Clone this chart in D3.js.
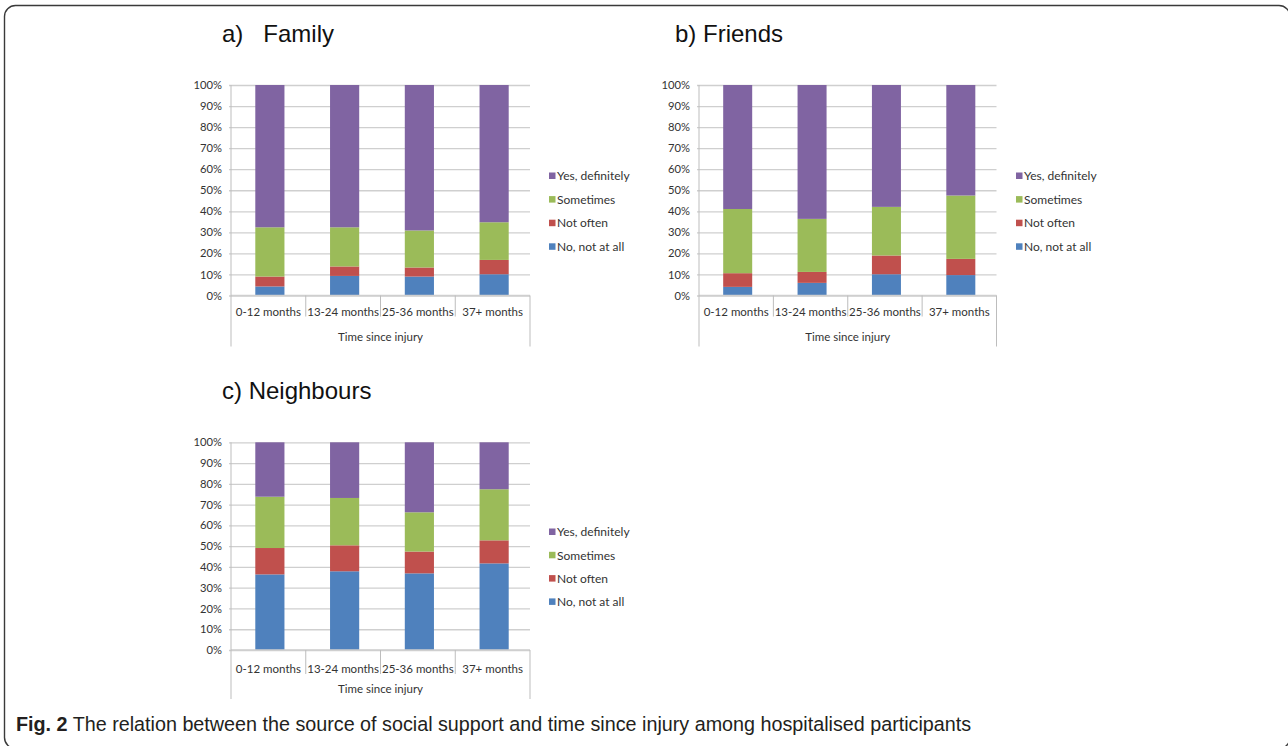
<!DOCTYPE html>
<html>
<head>
<meta charset="utf-8">
<script src="https://cdn.jsdelivr.net/npm/d3@7"></script>
<style>
  html, body { margin: 0; padding: 0; background: #fff; }
  svg { display: block; }
</style>
</head>
<body>
<svg id="fig" width="1288" height="746"></svg>
<script>
// Time since injury categories, shared by all three panels
const categories = ["0-12 months", "13-24 months", "25-36 months", "37+ months"];
// Response options, bottom of the stack first
const responses = ["No, not at all", "Not often", "Sometimes", "Yes, definitely"];
const responseColors = ["#4F81BD", "#C0504D", "#9BBB59", "#8064A2"];
const yTicks = [0, 10, 20, 30, 40, 50, 60, 70, 80, 90, 100];

// a) Family — percentage of each response per category
const familyNo        = [4.3, 9.3, 9.0, 10.1];
const familyNotOften  = [4.7, 4.5, 4.3, 6.8];
const familySometimes = [23.4, 18.6, 17.6, 17.9];
const familyYes       = [67.6, 67.6, 69.1, 65.2];

// b) Friends
const friendsNo        = [4.1, 6.0, 10.1, 9.7];
const friendsNotOften  = [6.5, 5.2, 8.9, 7.7];
const friendsSometimes = [30.5, 25.2, 23.1, 30.1];
const friendsYes       = [58.9, 63.6, 57.9, 52.5];

// c) Neighbours
const neighboursNo        = [36.4, 37.9, 36.9, 41.7];
const neighboursNotOften  = [12.7, 12.5, 10.5, 11.1];
const neighboursSometimes = [24.7, 22.8, 18.9, 24.6];
const neighboursYes       = [26.2, 26.8, 33.7, 22.6];

const axisTitle = "Time since injury";
const captionBold = "Fig. 2";
const captionText = " The relation between the source of social support and time since injury among hospitalised participants";

const panels = [
  { title: "a)   Family", series: [familyNo, familyNotOften, familySometimes, familyYes],
    x0: 231, x1: 530, yTop: 85, yBase: 295.5, divDrop: 21, outerDrop: 51,
    titleX: 222, titleY: 41.5, legendX: 549, legendY: 176, legendStep: 23.6 },
  { title: "b) Friends", series: [friendsNo, friendsNotOften, friendsSometimes, friendsYes],
    x0: 699, x1: 996.5, yTop: 85, yBase: 295.5, divDrop: 21, outerDrop: 51,
    titleX: 675, titleY: 41.5, legendX: 1016, legendY: 176, legendStep: 23.6 },
  { title: "c) Neighbours", series: [neighboursNo, neighboursNotOften, neighboursSometimes, neighboursYes],
    x0: 231, x1: 530, yTop: 442.3, yBase: 650, divDrop: 24, outerDrop: 49,
    titleX: 222, titleY: 398.5, legendX: 549, legendY: 532, legendStep: 23.3 }
];

const svg = d3.select("#fig");
const labelFont = "Lato, 'Open Sans', sans-serif";
const gridColor = "#cfcfcf";
const axisColor = "#bdbdbd";

// Rounded frame around the whole figure (right and bottom edges run past the canvas)
svg.append("rect")
  .attr("x", 4.5).attr("y", 5.5)
  .attr("width", 1285.5).attr("height", 743)
  .attr("rx", 11).attr("ry", 11)
  .attr("fill", "none").attr("stroke", "#3a3a3a").attr("stroke-width", 1.4);

panels.forEach(p => {
  const g = svg.append("g");

  const x = d3.scaleBand().domain(categories).range([p.x0, p.x1])
    .paddingInner(0.61).paddingOuter(0.305);
  const xCell = d3.scaleBand().domain(categories).range([p.x0, p.x1]).padding(0);
  const y = d3.scaleLinear().domain([0, 100]).range([p.yBase, p.yTop]);

  // Panel title
  g.append("text")
    .attr("x", p.titleX).attr("y", p.titleY)
    .attr("font-family", "'Liberation Sans', Arial, sans-serif")
    .attr("font-size", 24).attr("fill", "#111")
    .style("white-space", "pre")
    .text(p.title);

  // Horizontal gridlines with percent labels
  const yAxis = d3.axisLeft(y).tickValues(yTicks).tickFormat(d => d + "%")
    .tickSize(-(p.x1 - p.x0) - 2).tickPadding(8);
  const ya = g.append("g").attr("transform", `translate(${p.x0 - 2},0)`).call(yAxis);
  ya.select(".domain").remove();
  ya.selectAll(".tick line").attr("stroke", gridColor).attr("stroke-width", 1.3);
  ya.selectAll(".tick text").attr("font-family", labelFont).attr("font-size", 11.2)
    .attr("fill", "#333").attr("x", -7);

  // Stacked bars
  const rows = categories.map((c, i) => {
    const r = { cat: c };
    responses.forEach((s, k) => r[s] = p.series[k][i]);
    return r;
  });
  const stacked = d3.stack().keys(responses)(rows);
  g.selectAll("g.layer").data(stacked).join("g")
    .attr("class", "layer")
    .attr("fill", (d, k) => responseColors[k])
    .selectAll("rect").data(d => d).join("rect")
      .attr("x", d => x(d.data.cat) + 1.5)
      .attr("width", x.bandwidth())
      .attr("y", d => y(d[1]))
      .attr("height", d => y(d[0]) - y(d[1]));

  // Category axis: baseline, dividers and outer frame lines
  g.append("line")
    .attr("x1", p.x0).attr("x2", p.x1).attr("y1", y(0)).attr("y2", y(0))
    .attr("stroke", gridColor).attr("stroke-width", 1.3);
  g.append("line")
    .attr("x1", p.x0).attr("x2", p.x0).attr("y1", y(100)).attr("y2", y(0) + p.outerDrop)
    .attr("stroke", axisColor).attr("stroke-width", 1);
  g.append("line")
    .attr("x1", p.x1).attr("x2", p.x1).attr("y1", y(0)).attr("y2", y(0) + p.outerDrop)
    .attr("stroke", axisColor).attr("stroke-width", 1);
  g.selectAll("line.divider").data(categories.slice(1)).join("line")
    .attr("class", "divider")
    .attr("x1", d => xCell(d)).attr("x2", d => xCell(d))
    .attr("y1", y(0)).attr("y2", y(0) + p.divDrop)
    .attr("stroke", axisColor).attr("stroke-width", 1);

  g.selectAll("text.cat").data(categories).join("text")
    .attr("class", "cat")
    .attr("x", d => xCell(d) + xCell.bandwidth() / 2)
    .attr("y", y(0) + p.divDrop - 1)
    .attr("text-anchor", "middle")
    .attr("font-family", labelFont).attr("font-size", 11.5).attr("fill", "#333")
    .text(d => d);

  g.append("text")
    .attr("x", (p.x0 + p.x1) / 2)
    .attr("y", y(0) + p.outerDrop - 6)
    .attr("text-anchor", "middle")
    .attr("font-family", labelFont).attr("font-size", 11.5).attr("fill", "#333")
    .text(axisTitle);

  // Legend, top entry is the top of the stack
  const legendOrder = responses.map((r, k) => k).reverse();
  const lg = g.selectAll("g.legend").data(legendOrder).join("g")
    .attr("class", "legend")
    .attr("transform", (k, i) => `translate(${p.legendX},${p.legendY + i * p.legendStep})`);
  lg.append("rect").attr("x", 0).attr("y", -3.5).attr("width", 6.5).attr("height", 6.5)
    .attr("fill", k => responseColors[k]);
  lg.append("text").attr("x", 8).attr("y", 4.2)
    .attr("font-family", labelFont).attr("font-size", 12).attr("fill", "#333")
    .text(k => responses[k]);
});

// Figure caption, fitted to its line width
const cap = svg.append("text")
  .attr("font-family", "'Liberation Sans Narrow', 'Liberation Sans', Arial, sans-serif")
  .attr("font-size", 19.5).attr("fill", "#231f20");
cap.append("tspan").attr("font-weight", "bold").text(captionBold);
cap.append("tspan").text(captionText);
const capW = cap.node().getComputedTextLength();
cap.attr("transform", `translate(16,730.5) scale(${956 / capW},1)`);
</script>
</body>
</html>
